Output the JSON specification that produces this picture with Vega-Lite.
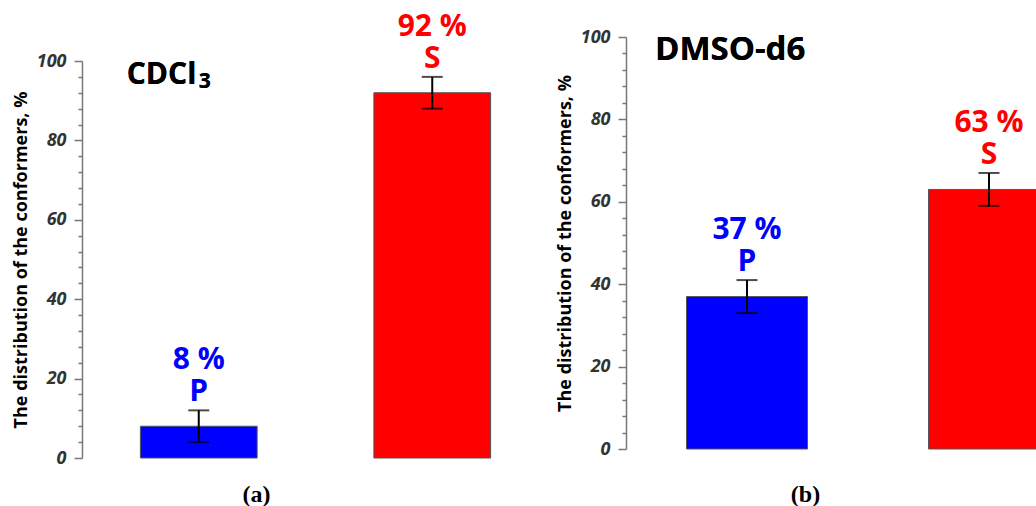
{
  "$schema": "https://vega.github.io/schema/vega-lite/v6.json",
  "padding": {"left": 12, "top": 11, "right": 0, "bottom": 0},
  "bounds": "flush",
  "spacing": 77,
  "datasets": {
    "cdcl3": [
      {"conf": "P", "value": 8, "lo": 4, "hi": 12, "pct": "8 %"},
      {"conf": "S", "value": 92, "lo": 88, "hi": 96, "pct": "92 %"}
    ],
    "dmso": [
      {"conf": "P", "value": 37, "lo": 33, "hi": 41, "pct": "37 %"},
      {"conf": "S", "value": 63, "lo": 59, "hi": 67, "pct": "63 %"}
    ]
  },
  "config": {
    "view": {"stroke": null},
    "font": "Open Sans",
    "axisY": {
      "grid": false,
      "domainColor": "#777777",
      "domainWidth": 1.5,
      "tickColor": "#777777",
      "tickWidth": 1.5,
      "labelFont": "Open Sans",
      "labelFontSize": 18,
      "labelFontWeight": "bold",
      "labelFontStyle": "italic",
      "labelColor": "#333333",
      "labelPadding": 8,
      "labelOverlap": false,
      "titleFont": "Open Sans",
      "titleFontSize": 18,
      "titleFontWeight": "bold",
      "titleColor": "#000000",
      "titlePadding": 6
    },
    "axisX": {
      "domain": false,
      "ticks": false,
      "labels": false,
      "grid": false,
      "titleFont": "Liberation Serif",
      "titleFontSize": 24,
      "titleFontWeight": "bold",
      "titleColor": "#000000",
      "titleBaseline": "middle",
      "titleAlign": "center"
    }
  },
  "hconcat": [
    {
      "width": 467,
      "height": 421,
      "data": {"name": "cdcl3"},
      "resolve": {"axis": {"y": "independent"}},
      "encoding": {
        "x": {
          "field": "conf",
          "type": "nominal",
          "scale": {"paddingInner": 0.5, "paddingOuter": 0.25},
          "axis": {"title": "(a)", "titleX": 174, "titleY": 36}
        }
      },
      "layer": [
        {
          "mark": {"type": "bar", "stroke": "#555555", "strokeWidth": 1},
          "encoding": {
            "y": {
              "field": "value",
              "type": "quantitative",
              "scale": {"domain": [0, 100], "range": [421, 24], "nice": false},
              "axis": {
                "orient": "left",
                "title": "The distribution of the conformers, %",
                "values": [0, 20, 40, 60, 80, 100],
                "tickSize": 8
              }
            },
            "color": {
              "field": "conf",
              "type": "nominal",
              "scale": {"domain": ["P", "S"], "range": ["#0000ff", "#ff0000"]},
              "legend": null
            }
          }
        },
        {
          "mark": {"type": "rule", "color": "#000000", "strokeWidth": 2},
          "encoding": {
            "y": {
              "field": "lo",
              "type": "quantitative",
              "axis": {
                "orient": "left",
                "title": null,
                "labels": false,
                "domain": false,
                "tickSize": 4,
                "values": [4, 8, 12, 16, 24, 28, 32, 36, 44, 48, 52, 56, 64, 68, 72, 76, 84, 88, 92, 96]
              }
            },
            "y2": {"field": "hi"}
          }
        },
        {
          "mark": {"type": "tick", "color": "#000000", "size": 21, "thickness": 2, "orient": "horizontal"},
          "encoding": {
            "y": {"field": "lo", "type": "quantitative", "axis": null}
          }
        },
        {
          "mark": {"type": "tick", "color": "#000000", "size": 21, "thickness": 2, "orient": "horizontal"},
          "encoding": {
            "y": {"field": "hi", "type": "quantitative", "axis": null}
          }
        },
        {
          "mark": {"type": "text", "fontSize": 30, "fontWeight": "bold", "font": "Open Sans", "baseline": "alphabetic", "dy": -9},
          "encoding": {
            "y": {"field": "hi", "type": "quantitative", "axis": null},
            "text": {"field": "conf"},
            "color": {"field": "conf", "type": "nominal", "legend": null}
          }
        },
        {
          "mark": {"type": "text", "fontSize": 30, "fontWeight": "bold", "font": "Open Sans", "baseline": "alphabetic", "dy": -41},
          "encoding": {
            "y": {"field": "hi", "type": "quantitative", "axis": null},
            "text": {"field": "pct"},
            "color": {"field": "conf", "type": "nominal", "legend": null}
          }
        },
        {
          "mark": {"type": "text", "fontSize": 30, "fontWeight": "bold", "font": "Open Sans", "baseline": "alphabetic", "align": "left", "dx": -72, "color": "#000000"},
          "encoding": {
            "x": {"datum": "P", "type": "nominal"},
            "y": {"datum": 94.2, "type": "quantitative", "axis": null},
            "text": {"value": "CDCl"}
          }
        },
        {
          "mark": {"type": "text", "fontSize": 21, "fontWeight": "bold", "font": "Open Sans", "baseline": "alphabetic", "align": "left", "dx": 0, "color": "#000000"},
          "encoding": {
            "x": {"datum": "P", "type": "nominal"},
            "y": {"datum": 93.2, "type": "quantitative", "axis": null},
            "text": {"value": "3"}
          }
        }
      ]
    },
    {
      "width": 410,
      "height": 421,
      "data": {"name": "dmso"},
      "resolve": {"axis": {"y": "independent"}},
      "encoding": {
        "x": {
          "field": "conf",
          "type": "nominal",
          "scale": {"paddingInner": 0.5, "paddingOuter": 0.25, "range": [0, 484]},
          "axis": {"title": "(b)", "titleX": 179, "titleY": 36}
        }
      },
      "layer": [
        {
          "mark": {"type": "bar", "stroke": "#555555", "strokeWidth": 1, "clip": true},
          "encoding": {
            "y": {
              "field": "value",
              "type": "quantitative",
              "scale": {"domain": [0, 100], "range": [412, 0], "nice": false},
              "axis": {
                "orient": "left",
                "title": "The distribution of the conformers, %",
                "values": [0, 20, 40, 60, 80, 100],
                "tickSize": 8
              }
            },
            "color": {
              "field": "conf",
              "type": "nominal",
              "scale": {"domain": ["P", "S"], "range": ["#0000ff", "#ff0000"]},
              "legend": null
            }
          }
        },
        {
          "mark": {"type": "rule", "color": "#000000", "strokeWidth": 2},
          "encoding": {
            "y": {
              "field": "lo",
              "type": "quantitative",
              "axis": {
                "orient": "left",
                "title": null,
                "labels": false,
                "domain": false,
                "tickSize": 4,
                "values": [4, 8, 12, 16, 24, 28, 32, 36, 44, 48, 52, 56, 64, 68, 72, 76, 84, 88, 92, 96]
              }
            },
            "y2": {"field": "hi"}
          }
        },
        {
          "mark": {"type": "tick", "color": "#000000", "size": 21, "thickness": 2, "orient": "horizontal"},
          "encoding": {
            "y": {"field": "lo", "type": "quantitative", "axis": null}
          }
        },
        {
          "mark": {"type": "tick", "color": "#000000", "size": 21, "thickness": 2, "orient": "horizontal"},
          "encoding": {
            "y": {"field": "hi", "type": "quantitative", "axis": null}
          }
        },
        {
          "mark": {"type": "text", "fontSize": 30, "fontWeight": "bold", "font": "Open Sans", "baseline": "alphabetic", "dy": -9},
          "encoding": {
            "y": {"field": "hi", "type": "quantitative", "axis": null},
            "text": {"field": "conf"},
            "color": {"field": "conf", "type": "nominal", "legend": null}
          }
        },
        {
          "mark": {"type": "text", "fontSize": 30, "fontWeight": "bold", "font": "Open Sans", "baseline": "alphabetic", "dy": -41},
          "encoding": {
            "y": {"field": "hi", "type": "quantitative", "axis": null},
            "text": {"field": "pct"},
            "color": {"field": "conf", "type": "nominal", "legend": null}
          }
        },
        {
          "mark": {"type": "text", "fontSize": 33, "fontWeight": "bold", "font": "Open Sans", "baseline": "alphabetic", "align": "left", "dx": -92, "color": "#000000"},
          "encoding": {
            "x": {"datum": "P", "type": "nominal"},
            "y": {"datum": 94.4, "type": "quantitative", "axis": null},
            "text": {"value": "DMSO-d6"}
          }
        }
      ]
    }
  ]
}
